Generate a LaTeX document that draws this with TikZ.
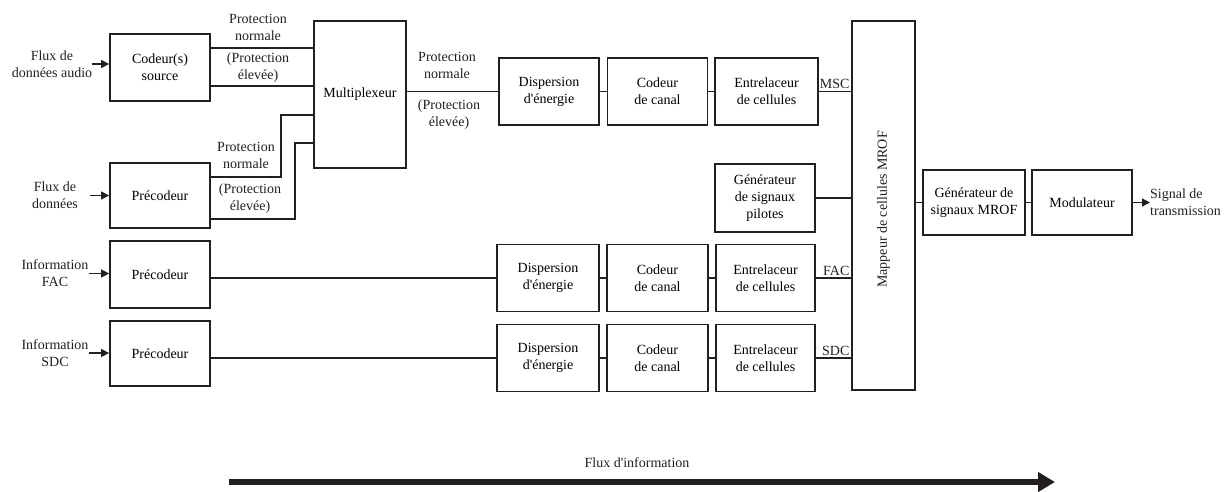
\documentclass[tikz,border=0pt]{standalone}
\usepackage{fontspec}
\setmainfont{Liberation Serif}[Ligatures=TeXOff]
\definecolor{mInk}{HTML}{231F20}
\usepackage{tikz}
\usetikzlibrary{arrows.meta,calc}

\begin{document}
\begin{tikzpicture}[x=1pt, y=-1pt, font=\fontsize{14}{17}\selectfont,
  blk/.style={draw=mInk, line width=1.8pt, minimum width=100pt, minimum height=67pt, align=center, inner sep=1pt},
  wire/.style={draw=mInk, line width=1.4pt},
  feed/.style={wire, -{Triangle[length=8pt,width=8pt]}},
  lbl/.style={align=center, inner sep=0pt, text=mInk}]
\useasboundingbox (0,0) rectangle (1227,491);
% sources and precoders
\node[blk] (src) at (160,67.5) {Codeur(s)\\source};
\node[blk, minimum height=65pt] (pre) at (160,195.5) {Précodeur};
\node[blk] (preF) at (160,274.5) {Précodeur};
\node[blk, minimum height=65pt] (preS) at (160,353.5) {Précodeur};
\node[blk, minimum width=92pt, minimum height=147pt] (mux) at (360,94.5) {Multiplexeur};
% inputs
\node[lbl] (aud) at (52,64) {Flux de\\données audio};
\node[lbl] (dat) at (55,195.5) {Flux de\\données};
\node[lbl] (infF) at (55,273.5) {Information\\FAC};
\node[lbl] (infS) at (55,353) {Information\\SDC};
\draw[feed] (aud.east) -- (aud.east -| src.west);
\draw[feed] ([xshift=12pt]dat.east) -- (dat.east -| pre.west);
\draw[feed] (infF.east) -- (infF.east -| preF.west);
\draw[feed] (infS.east) -- (infS.east -| preS.west);
% MSC chain
\node[blk] (dispM) at (549,91.5) {Dispersion\\d'énergie};
\node[blk] (codM) at (657.5,91.5) {Codeur\\de canal};
\node[blk, minimum width=103pt] (entM) at (766.5,91.5) {Entrelaceur\\de cellules};
\node[blk, minimum height=68pt] (pil) at (765,198) {Générateur\\de signaux\\pilotes};
% FAC chain
\node[blk, minimum width=102pt] (dispF) at (548,278) {Dispersion\\d'énergie};
\node[blk, minimum width=101pt] (codF) at (657.5,278) {Codeur\\de canal};
\node[blk, minimum width=99pt] (entF) at (765.5,278) {Entrelaceur\\de cellules};
% SDC chain
\node[blk, minimum width=102pt] (dispS) at (548,358) {Dispersion\\d'énergie};
\node[blk, minimum width=101pt] (codS) at (657.5,358) {Codeur\\de canal};
\node[blk, minimum width=99pt] (entS) at (765.5,358) {Entrelaceur\\de cellules};
% mapper and output
\node[blk, minimum width=63pt, minimum height=369pt] (map) at (883.5,205.5) {};
\node[lbl, rotate=90] (mapT) at ($(map.center)+(0,4)$) {Mappeur de cellules MROF};
\node[blk, minimum width=102pt, minimum height=65pt] (gen) at (974,202.5) {Générateur de\\signaux MROF};
\node[blk, minimum height=65pt] (mod) at (1082,202.5) {Modulateur};
\node[lbl, anchor=west, align=left] (sig) at (1150,202.5) {Signal de\\transmission};
% protection labels
\node[lbl] (pn1) at (258,27.5) {Protection\\normale};
\node[lbl] (pe1) at (258,68) {(Protection\\élevée)};
\node[lbl] (pn2) at (246,155.5) {Protection\\normale};
\node[lbl] (pe2) at (250,198.5) {(Protection\\élevée)};
\node[lbl] (pn3) at (447,65.5) {Protection\\normale};
\node[lbl] (pe3) at (449,114.5) {(Protection\\élevée)};
% source coder to multiplexer
\coordinate (s1) at ($(src.east)+(0,-19.5)$);
\coordinate (s2) at ($(src.east)+(0,18.5)$);
\draw[wire] (s1) -- (s1 -| mux.west);
\draw[wire] (s2) -- (s2 -| mux.west);
% precoder to multiplexer
\coordinate (p1) at ($(pre.east)+(0,-18.5)$);
\coordinate (p2) at ($(pre.east)+(0,23.5)$);
\coordinate (k1) at (281,115);
\coordinate (k2) at (295,143);
\draw[wire] (p1) -| (k1) -- (k1 -| mux.west);
\draw[wire] (p2) -| (k2) -- (k2 -| mux.west);
% chains
\draw[wire] (dispM.west -| mux.east) -- (dispM.west);
\draw[wire] (dispM) -- (codM) -- (entM);
\draw[wire] (entM.east) -- (entM.east -| map.west) node[lbl, pos=1, anchor=south east, xshift=-1pt, yshift=2pt] {MSC};
\draw[wire] (pil.east) -- (pil.east -| map.west);
\draw[wire] (dispF.west -| preF.east) -- (dispF.west);
\draw[wire] (dispF) -- (codF) -- (entF);
\draw[wire] (entF.east) -- (entF.east -| map.west) node[lbl, pos=1, anchor=south east, xshift=-1pt, yshift=2pt] {FAC};
\draw[wire] (dispS.west -| preS.east) -- (dispS.west);
\draw[wire] (dispS) -- (codS) -- (entS);
\draw[wire] (entS.east) -- (entS.east -| map.west) node[lbl, pos=1, anchor=south east, xshift=-1pt, yshift=2pt] {SDC};
\draw[wire] (gen.west -| map.east) -- (gen.west);
\draw[wire] (gen) -- (mod);
\draw[feed] (mod.east) -- (sig.west);
% information flow
\node[lbl] (flow) at (637,463) {Flux d'information};
\coordinate (fa) at (229,482);
\coordinate (fb) at (1055,482);
\draw[mInk, line width=5.5pt, -{Triangle[length=17pt,width=19pt]}] (fa) -- (fb);
\end{tikzpicture}
\end{document}
